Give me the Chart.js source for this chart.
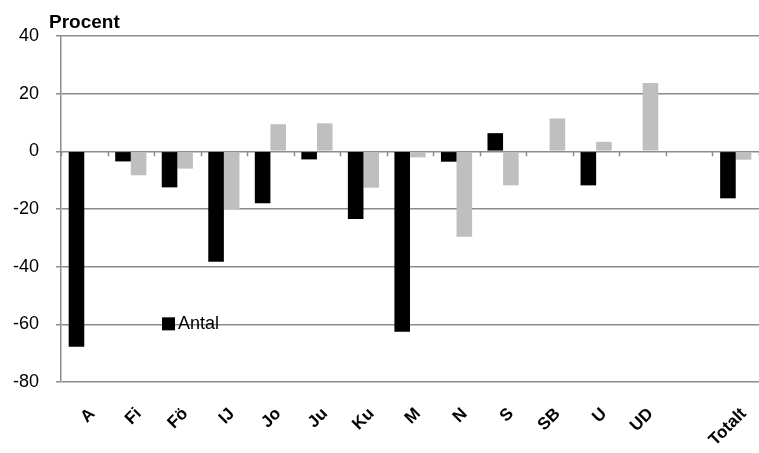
<!DOCTYPE html>
<html>
<head>
<meta charset="utf-8">
<script src="https://cdn.jsdelivr.net/npm/chart.js@4/dist/chart.umd.min.js"></script>
<style>
body{margin:0;background:#fff;}
canvas{display:block;}
</style>
</head>
<body>
<canvas id="graph" width="759" height="453"></canvas>
<script>
/* DATA */
const categories=["A","Fi","Fö","IJ","Jo","Ju","Ku","M","N","S","SB","U","UD","","Totalt"];
const antal=[-67.8,-3.5,-12.5,-38.3,-18.0,-2.8,-23.5,-62.6,-3.6,6.3,0,-11.8,0,null,-16.3];
const andel=[0,-8.3,-6.0,-20.1,9.4,9.7,-12.6,-2.1,-29.6,-11.8,11.4,3.3,23.7,null,-2.9];
const yTicks=[-80,-60,-40,-20,0,20,40];

const FONT="'Liberation Sans', Arial, sans-serif";

/* EXTRAS: title, legend, tick marks on zero line */
const extras={
id:"extras",
afterDraw(chart){
const c=chart.ctx;
const a=chart.chartArea;
const x=chart.scales.x;
const y=chart.scales.y;
c.save();
// ticks on the zero line between categories
let y0=y.getPixelForValue(0);
c.strokeStyle="#8c8c8c";
c.lineWidth=1.5;
let n=categories.length;
for(let i=0;i<=n;i++){
let px=Math.round(x.left+i*(x.right-x.left)/n)+0.5;
c.beginPath();
c.moveTo(px,y0);
c.lineTo(px,y0+5);
c.stroke();
}
// title
c.fillStyle="#000";
c.font="bold 19px "+FONT;
c.textBaseline="alphabetic";
c.textAlign="left";
c.fillText("Procent",a.left-12,a.top-8);
// legend
let ly=y.getPixelForValue(-60);
c.fillRect(a.left+101,ly-7,13,13);
c.font="18px "+FONT;
c.textBaseline="middle";
c.fillText("Antal",a.left+117,ly);
c.restore();
}
};

new Chart(document.getElementById("graph"),{
type:"bar",
data:{
labels:categories,
datasets:[
{label:"Antal",data:antal,backgroundColor:"#000000",categoryPercentage:0.67,barPercentage:1.0},
{label:"Andel",data:andel,backgroundColor:"#bfbfbf",categoryPercentage:0.67,barPercentage:1.0}
]
},
options:{
responsive:false,
animation:false,
layout:{padding:{top:36,right:0,left:0,bottom:0}},
plugins:{legend:{display:false},tooltip:{enabled:false},title:{display:false}},
scales:{
x:{
grid:{display:false,drawTicks:false},
border:{display:false},
ticks:{color:"#000",font:{family:FONT,size:17,weight:"bold"},minRotation:45,maxRotation:45,autoSkip:false,padding:22,labelOffset:8},
afterFit(s){s.height=71;s.paddingLeft=0;s.paddingRight=0;}
},
y:{
min:-80,max:40,
grid:{color:"#8c8c8c",lineWidth:1.5,drawTicks:true,tickLength:5,tickColor:"#8c8c8c"},
border:{color:"#8c8c8c",width:1.5},
ticks:{color:"#000",font:{family:FONT,size:18},stepSize:20,padding:17,
callback:(v)=>yTicks.includes(v)?v:""},
afterFit(s){s.width=61;s.paddingTop=0;s.paddingBottom=0;}
}
}
},
plugins:[extras]
});
</script>
</body>
</html>
